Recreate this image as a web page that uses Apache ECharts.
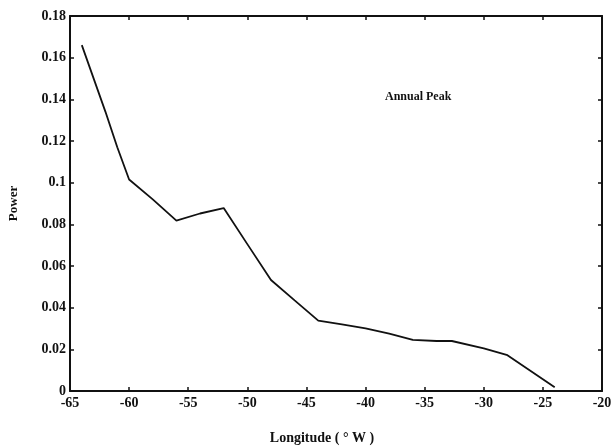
<!DOCTYPE html>
<html>
<head>
<meta charset="utf-8">
<script src="https://cdn.jsdelivr.net/npm/echarts@6/dist/echarts.min.js"></script>
<style>
    html, body { margin: 0; padding: 0; background: #fff; }
    #main-chart { width: 612px; height: 446px; }
</style>
</head>
<body>
<div id="main-chart"></div>
<script>
// longitude (deg W, negative) and power
const longitude = [-64, -62, -61, -60, -58, -56, -54, -52, -50, -48, -46, -44, -42, -40, -38, -36, -34, -32.7, -30, -28, -24];
const power = [0.166, 0.134, 0.117, 0.1015, 0.092, 0.0818, 0.0852, 0.0878, 0.0705, 0.0533, 0.0435, 0.0338, 0.032, 0.0301, 0.0275, 0.0245, 0.024, 0.024, 0.0205, 0.0172, 0.0018];
const seriesLabel = 'Annual Peak';

const font = 'Liberation Serif';
const ink = '#111';

const chartDom = document.getElementById('main-chart');
const myChart = echarts.init(chartDom);

const axisCommon = {
    axisLine: { show: true, onZero: false, lineStyle: { color: ink, width: 2 } },
    axisTick: { show: true, inside: true, length: 4, lineStyle: { color: ink, width: 1.5 } },
    splitLine: { show: false },
};

const option = {
    animation: false,
    grid: { left: 70, right: 10, top: 16, bottom: 55, outerBoundsMode: 'none' },
    xAxis: [{
        type: 'value', min: -65, max: -20, interval: 5, position: 'bottom',
        ...axisCommon,
        axisLabel: { color: ink, fontFamily: font, fontWeight: 'bold', fontSize: 14, margin: 5 },
        name: 'Longitude ( ° W )',
        nameLocation: 'middle',
        nameGap: 40,
        nameTextStyle: { color: ink, fontFamily: font, fontWeight: 'bold', fontSize: 14, padding: [0, 28, 0, 0] },
    }, {
        type: 'value', min: -65, max: -20, interval: 5, position: 'top',
        ...axisCommon,
        axisLabel: { show: false },
    }],
    yAxis: [{
        type: 'value', min: 0, max: 0.18, interval: 0.02, position: 'left',
        ...axisCommon,
        axisLabel: { color: ink, fontFamily: font, fontWeight: 'bold', fontSize: 14, margin: 4 },
        name: 'Power',
        nameLocation: 'middle',
        nameGap: 50,
        nameTextStyle: { color: ink, fontFamily: font, fontWeight: 'bold', fontSize: 13 },
    }, {
        type: 'value', min: 0, max: 0.18, interval: 0.02, position: 'right',
        ...axisCommon,
        axisLabel: { show: false },
    }],
    graphic: [{
        type: 'text',
        left: 385,
        top: 91,
        style: { text: seriesLabel, fill: ink, font: 'bold 12px "Liberation Serif"' },
    }],
    series: [{
        name: seriesLabel,
        type: 'line',
        data: longitude.map((x, i) => [x, power[i]]),
        showSymbol: false,
        lineStyle: { color: ink, width: 1.8 },
    }],
};

myChart.setOption(option);
</script>
</body>
</html>
